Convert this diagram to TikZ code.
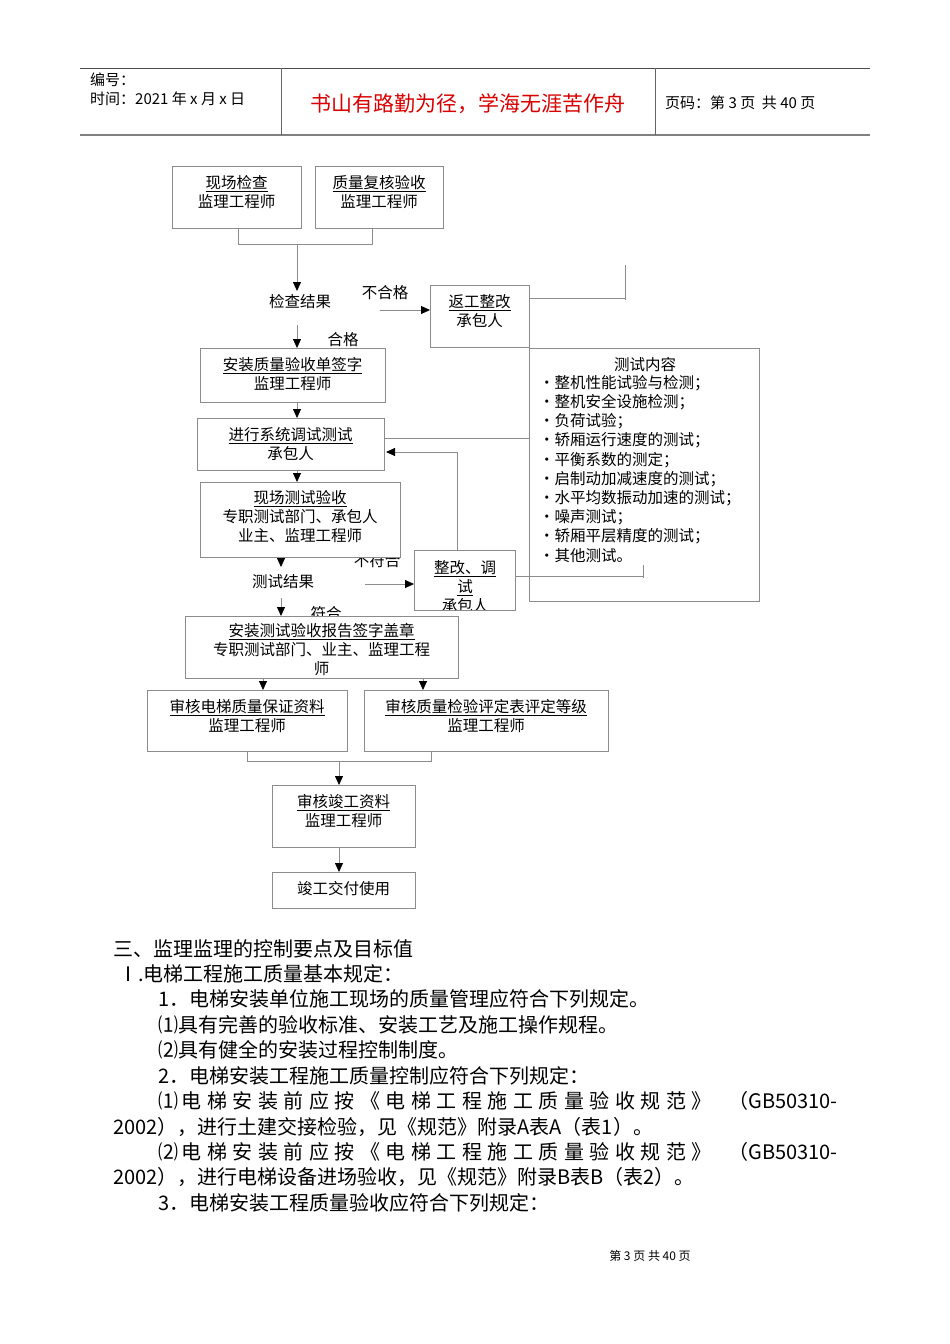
\documentclass[tikz,border=0pt]{standalone}
\usepackage{fontspec}
\setmainfont{Noto Sans CJK SC}
\usetikzlibrary{arrows.meta}
\newcommand{\jline}{\makebox[530pt][s]{电\hfil 梯\hfil 安\hfil 装\hfil 前\hfil 应\hfil 按\hfil 《\hfil 电\hfil 梯\hfil 工\hfil 程\hfil 施\hfil 工\hfil 质\hfil 量\hfil 验\hfil 收\hfil 规\hfil 范\hfil 》}}
\begin{document}
\begin{tikzpicture}[x=1pt,y=-1pt,
  bx/.style={draw=black!45,fill=white,line width=0.8pt},
  ln/.style={draw=black!45,line width=0.8pt},
  ar/.style={ln,-{Triangle[length=9pt,width=8pt,black]}},
  ft/.style={font=\fontsize{15.5}{19}\selectfont,align=center,inner sep=0pt},
  bt/.style={font=\fontsize{20}{25}\selectfont,anchor=west,inner sep=0pt}]
\useasboundingbox (0,0) rectangle (950,1344);
% header
\draw[black!70,line width=1pt] (80,68) -- (870,68);
\draw[black!50,line width=1.6pt] (80,135) -- (870,135);
\draw[black!60,line width=0.8pt] (281,68) -- (281,135) (655,68) -- (655,135);
\node[anchor=west,inner sep=0pt,font=\fontsize{15}{17}\selectfont] (h1) at (90,80) {编号：};
\node[anchor=west,inner sep=0pt,font=\fontsize{15}{17}\selectfont] (h2) at (90,99) {时间：2021 年 x 月 x 日};
\node[inner sep=0pt,text=red!85!black,font=\fontsize{21}{24}\selectfont] (h3) at (468,104) {书山有路勤为径，学海无涯苦作舟};
\node[anchor=west,inner sep=0pt,font=\fontsize{15}{17}\selectfont] (h4) at (665,103) {页码：第 3 页 \ 共 40 页};
% labels (drawn first, may be covered)
\node[ft] (l1) at (300,302) {检查结果};
\node[ft] (l2) at (385,293) {不合格};
\node[ft] (l3) at (343,340) {合格};
\node[ft] (l4) at (377,561) {不符合};
\node[ft] (l5) at (283,582) {测试结果};
\node[ft] (l6) at (326,614) {符合};
% connectors
\coordinate (j1) at (238,244); \coordinate (j2) at (372,244);
\draw[ln] (238,228) -- (j1) -- (j2) -- (372,228);
\draw[ar] (297,244) -- (297,291);
\draw[ar] (297,325) -- (297,348);
\draw[ar] (380,310) -- (430,310);
\draw[ln] (529,298) -- (625,298) (625,265) -- (625,300);
\draw[ar] (297,402) -- (297,418);
\draw[ln] (384,438) -- (530,438);
\draw[ar] (457,550) -- (457,452) -- (386,452);
\draw[ar] (297,470) -- (297,482);
\draw[ar] (281,557) -- (281,567);
\draw[ar] (365,584) -- (414,584);
\draw[ar] (281,598) -- (281,616);
\draw[ar] (263,678) -- (263,690);
\draw[ar] (423,678) -- (423,690);
\draw[ln] (247,751) -- (247,761) -- (431,761) -- (431,751);
\draw[ar] (339,761) -- (339,785);
\draw[ar] (339,847) -- (339,872);
% boxes
\draw[bx] (172,166) rectangle (301,228); \node[ft] (a) at (236.5,192) {\underline{现场检查}\\监理工程师};
\draw[bx] (315,166) rectangle (443,228); \node[ft] (b) at (379,192) {\underline{质量复核验收}\\监理工程师};
\draw[bx] (430,285) rectangle (529,347); \node[ft] (d) at (479.5,311) {\underline{返工整改}\\承包人};
\draw[bx] (200,348) rectangle (385,402); \node[ft] (c) at (292.5,374) {\underline{安装质量验收单签字}\\监理工程师};
\draw[bx] (197,418) rectangle (384,470); \node[ft] (e) at (290.5,444) {\underline{进行系统调试测试}\\承包人};
\draw[bx] (200,482) rectangle (400,557); \node[ft] (g) at (300,517) {\underline{现场测试验收}\\专职测试部门、承包人\\业主、监理工程师};
\draw[bx] (529,348) rectangle (759,601);
\node[ft] (ht) at (645,365) {测试内容};
\node[ft,align=left,anchor=north west,font=\fontsize{15.5}{19.2}\selectfont] (h) at (539,375) {•整机性能试验与检测；\\•整机安全设施检测；\\•负荷试验；\\•轿厢运行速度的测试；\\•平衡系数的测定；\\•启制动加减速度的测试；\\•水平均数振动加速的测试；\\•噪声测试；\\•轿厢平层精度的测试；\\•其他测试。};
\draw[ln] (515,576) -- (643,576) (643,565) -- (643,578);
\begin{scope}
\clip (414,550) rectangle (515,610);
\draw[bx] (414,550) rectangle (515,610);
\node[ft] (f) at (465,587) {\underline{整改、调}\\\underline{试}\\承包人};
\end{scope}
\draw[ln] (414,550) rectangle (515,610);
\begin{scope}
\clip (185,616) rectangle (458,678);
\draw[bx] (185,616) rectangle (458,678);
\node[ft,anchor=north] (i) at (321.5,623) {\underline{安装测试验收报告签字盖章}\\专职测试部门、业主、监理工程\\师};
\end{scope}
\draw[ln] (185,616) rectangle (458,678);
\draw[bx] (147,690) rectangle (347,751); \node[ft] (j) at (247,716) {\underline{审核电梯质量保证资料}\\监理工程师};
\draw[bx] (364,690) rectangle (608,751); \node[ft] (k) at (486,716) {\underline{审核质量检验评定表评定等级}\\监理工程师};
\draw[bx] (272,785) rectangle (415,847); \node[ft] (l) at (343.5,811) {\underline{审核竣工资料}\\监理工程师};
\draw[bx] (272,872) rectangle (415,908); \node[ft] (m) at (343.5,889) {竣工交付使用};
% body
\node[bt] (t1) at (113,949) {三、监理监理的控制要点及目标值};
\node[bt] (t2) at (118,974) {Ⅰ.电梯工程施工质量基本规定：};
\node[bt] (t3) at (158,999) {1．电梯安装单位施工现场的质量管理应符合下列规定。};
\node[bt] (t4) at (158,1025) {⑴具有完善的验收标准、安装工艺及施工操作规程。};
\node[bt] (t5) at (158,1050) {⑵具有健全的安装过程控制制度。};
\node[bt] (t6) at (158,1076) {2．电梯安装工程施工质量控制应符合下列规定：};
\node[bt] (t7) at (158,1101) {⑴\,\jline};
\node[bt,anchor=east] (t7b) at (838,1101) {（GB50310-};
\node[bt] (t8) at (113,1127) {2002），进行土建交接检验，见《规范》附录A表A（表1）。};
\node[bt] (t9) at (158,1152) {⑵\,\jline};
\node[bt,anchor=east] (t9b) at (838,1152) {（GB50310-};
\node[bt] (t10) at (113,1177) {2002），进行电梯设备进场验收，见《规范》附录B表B（表2）。};
\node[bt] (t11) at (158,1203) {3．电梯安装工程质量验收应符合下列规定：};
\node[inner sep=0pt,font=\fontsize{12}{14}\selectfont] (pg) at (650,1256) {第 3 页 共 40 页};
\end{tikzpicture}
\end{document}
